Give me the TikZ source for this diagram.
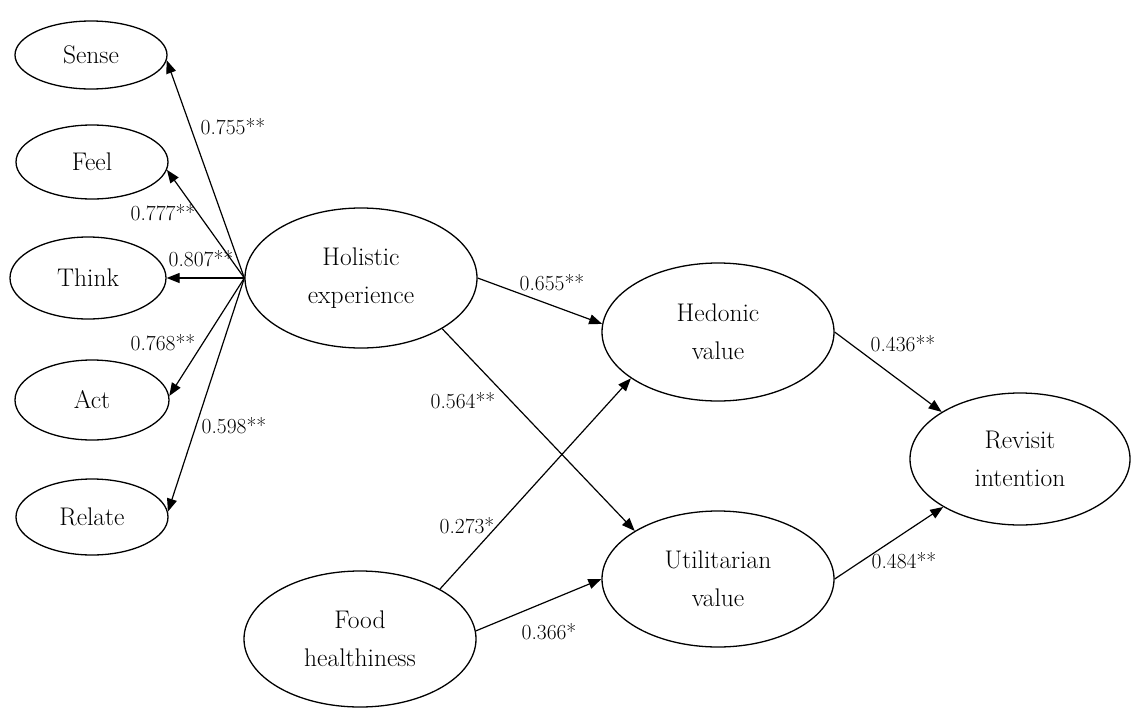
\documentclass[tikz,border=0pt]{standalone}
\usepackage{fontspec}
\usetikzlibrary{arrows.meta,shapes.geometric}
\begin{document}
\begin{tikzpicture}[x=1pt,y=-1pt,
  lat/.style={draw,ellipse,line width=1.3pt,inner sep=0pt,align=center,
    font=\fontsize{25.5}{38}\selectfont},
  lbl/.style={inner sep=0pt,font=\fontsize{21.5}{24}\selectfont},
  arr/.style={line width=1.2pt,-{Triangle[length=13pt,width=10pt]}}]
\useasboundingbox (0,0) rectangle (1132,707);
% indicators
\node[lat,minimum width=152pt,minimum height=68pt] (sense) at (91,55) {Sense};
\node[lat,minimum width=152pt,minimum height=74pt] (feel) at (92,162) {Feel};
\node[lat,minimum width=156pt,minimum height=82pt] (think) at (88,278) {Think};
\node[lat,minimum width=154pt,minimum height=80pt] (act) at (92,400) {Act};
\node[lat,minimum width=152pt,minimum height=76pt] (relate) at (92,517) {Relate};
% constructs
\node[lat,minimum width=232pt,minimum height=140pt] (hol) at (361,278) {Holistic\\experience};
\node[lat,minimum width=232pt,minimum height=136pt] (food) at (360,639) {Food\\healthiness};
\node[lat,minimum width=232pt,minimum height=138pt] (hed) at (718,332) {Hedonic\\value};
\node[lat,minimum width=232pt,minimum height=136pt] (util) at (718,579) {Utilitarian\\value};
\node[lat,minimum width=220pt,minimum height=132pt] (rev) at (1020,459) {Revisit\\intention};
% spokes
\draw[arr] (hol.west) -- (sense.-4);
\draw[arr] (hol.west) -- (feel.-6);
\draw[arr] (hol.west) -- (think.east);
\draw[arr] (hol.west) -- (act.3);
\draw[arr] (hol.west) -- (relate.4);
% structural paths
\draw[arr] (hol.east) -- (hed.176);
\draw[arr] (hol.-32) -- (util.150);
\draw[arr] (food.32) -- (hed.-152);
\draw[arr] (food.4) -- (util.west);
\draw[arr] (hed.east) -- (rev.149);
\draw[arr] (util.east) -- (rev.-148);
% labels
\node[lbl] (l1) at (233,127) {0.755**};
\node[lbl] (l2) at (163,213) {0.777**};
\node[lbl] (l3) at (201,259) {0.807**};
\node[lbl] (l4) at (163,343) {0.768**};
\node[lbl] (l5) at (234,426) {0.598**};
\node[lbl] (l6) at (552,283) {0.655**};
\node[lbl] (l7) at (463,401) {0.564**};
\node[lbl] (l8) at (467,526) {0.273*};
\node[lbl] (l9) at (549,632) {0.366*};
\node[lbl] (l10) at (903,344) {0.436**};
\node[lbl] (l11) at (904,561) {0.484**};
\end{tikzpicture}
\end{document}
